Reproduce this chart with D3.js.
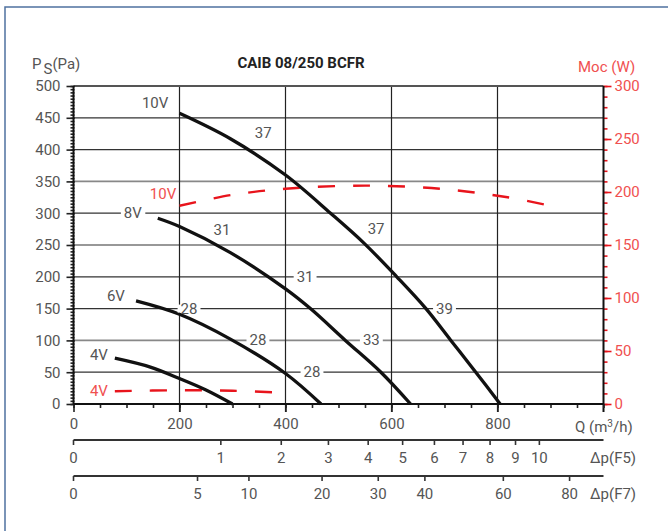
<!DOCTYPE html>
<html>
<head>
<meta charset="utf-8">
<script src="https://cdn.jsdelivr.net/npm/d3@7"></script>
<style>
  body { margin: 0; background: #fff; }
  svg { display: block; font-family: Roboto, "Noto Sans", sans-serif; }
</style>
</head>
<body>
<svg id="chart" width="668" height="531"></svg>
<script>
// Fan curves: flow Q (m3/h) and static pressure (Pa)
var curve4V = [[78, 72], [145, 58], [200, 40], [250, 22], [300, 0]];
var curve6V = [[118, 162], [200, 141], [296, 102], [400, 48], [467, 0]];
var curve8V = [[159, 292], [200, 279], [296, 238], [400, 181], [447, 150], [513, 100], [580, 50], [636, 0]];
var curve10V = [[200, 457], [296, 417], [400, 360], [485, 300], [548, 253], [610, 200], [665, 150], [712, 100], [759, 50], [805, 0]];

// Power curves: flow Q and power (W)
var power4V = [[78, 12], [200, 13], [300, 12.5], [381, 11]];
var power10V = [[200, 187], [296, 197], [400, 203], [550, 206], [693, 203], [819, 195], [900, 187]];

// Filter pressure drop scales: tick value and the flow where it sits
var f5Ticks = [0, 1, 2, 3, 4, 5, 6, 7, 8, 9, 10];
var f5Flow = [0, 278, 392, 481, 556, 621, 681, 735, 786, 834, 879];
var f7Ticks = [0, 5, 10, 20, 30, 40, 60, 80];
var f7Flow = [0, 234, 331, 469, 575, 663, 811, 936];

// Curve labels (Q, Pa)
var labels = [
    {t: "10V", q: 154, p: 473, red: false, bg: false},
    {t: "37", q: 358, p: 426, red: false, bg: false},
    {t: "10V", q: 169, p: 330, red: true, bg: false},
    {t: "8V", q: 112, p: 300, red: false, bg: true},
    {t: "31", q: 280, p: 274, red: false, bg: false},
    {t: "37", q: 571, p: 275, red: false, bg: false},
    {t: "31", q: 437, p: 200, red: false, bg: true},
    {t: "6V", q: 80, p: 170, red: false, bg: false},
    {t: "28", q: 218, p: 150, red: false, bg: true},
    {t: "39", q: 700, p: 150, red: false, bg: true},
    {t: "28", q: 348, p: 100, red: false, bg: true},
    {t: "33", q: 562, p: 100, red: false, bg: true},
    {t: "4V", q: 48, p: 77, red: false, bg: false},
    {t: "28", q: 450, p: 50, red: false, bg: true},
    {t: "4V", q: 48, p: 20, red: true, bg: false}
];

var svg = d3.select("#chart");
var GRAY = "#555", RED = "#f05050", DASH = "#e8141c";

var x = d3.scaleLinear().domain([0, 1000]).range([73.5, 603.5]);
var y = d3.scaleLinear().domain([0, 500]).range([404, 86]);
var yR = d3.scaleLinear().domain([0, 300]).range([404, 86]);

// Outer frame (left and top only visible)
svg.append("path").attr("d", "M5,531V7H668")
    .attr("fill", "none").attr("stroke", "#4f72a0").attr("stroke-width", 1.5);

// Horizontal grid
svg.append("g").selectAll("line")
    .data(d3.range(50, 500, 50))
    .enter().append("line")
    .attr("x1", x(0)).attr("x2", x(1000))
    .attr("y1", function(d) { return y(d); }).attr("y2", function(d) { return y(d); })
    .attr("stroke", function(d) { return (d == 100 || d == 350) ? "#888" : "#333"; })
    .attr("stroke-width", function(d) { return (d == 100 || d == 350) ? 1.6 : 1.2; });

// Vertical grid
svg.append("g").selectAll("line")
    .data([200, 400, 600, 800])
    .enter().append("line")
    .attr("x1", function(d) { return x(d); }).attr("x2", function(d) { return x(d); })
    .attr("y1", y(500)).attr("y2", y(0) + 8)
    .attr("stroke", "#222").attr("stroke-width", 1.2);

// Top border
svg.append("line").attr("x1", x(0)).attr("x2", x(1000)).attr("y1", y(500)).attr("y2", y(500))
    .attr("stroke", "#555").attr("stroke-width", 2);

// Left axis
var leftMinor = svg.append("g").attr("transform", "translate(" + (x(0) + 1) + ",0)")
    .call(d3.axisLeft(y).tickValues(d3.range(0, 501, 5)).tickSize(4).tickFormat(""));
var leftMajor = svg.append("g").attr("transform", "translate(" + (x(0) + 1) + ",0)")
    .call(d3.axisLeft(y).tickValues(d3.range(0, 501, 50)).tickSize(8).tickPadding(6));
[leftMinor, leftMajor].forEach(function(g) {
    g.select(".domain").remove();
    g.selectAll("line").attr("stroke", "#222").attr("stroke-width", 1.6);
});
leftMajor.selectAll("text").attr("fill", GRAY).style("font-size", "15px").style("font-family", "Roboto");
svg.append("line").attr("x1", x(0)).attr("x2", x(0)).attr("y1", y(500)).attr("y2", y(0))
    .attr("stroke", "#111").attr("stroke-width", 2);

// Right axis (power)
var rightMinor = svg.append("g").attr("transform", "translate(" + x(1000) + ",0)")
    .call(d3.axisRight(yR).tickValues(d3.range(0, 301, 10)).tickSize(4).tickFormat(""));
var rightMajor = svg.append("g").attr("transform", "translate(" + x(1000) + ",0)")
    .call(d3.axisRight(yR).tickValues(d3.range(0, 301, 50)).tickSize(8).tickPadding(3));
[rightMinor, rightMajor].forEach(function(g) {
    g.select(".domain").remove();
    g.selectAll("line").attr("stroke", DASH).attr("stroke-width", 1.6);
});
rightMajor.selectAll("text").attr("fill", RED).style("font-size", "15px").style("font-family", "Roboto");
svg.append("line").attr("x1", x(1000)).attr("x2", x(1000)).attr("y1", y(500)).attr("y2", y(0) + 8)
    .attr("stroke", "#111").attr("stroke-width", 2);

// Bottom axis (flow)
var bottomMinor = svg.append("g").attr("transform", "translate(0," + y(0) + ")")
    .call(d3.axisBottom(x).tickValues(d3.range(0, 1001, 50)).tickSize(4).tickFormat(""));
var bottomMajor = svg.append("g").attr("transform", "translate(0," + y(0) + ")")
    .call(d3.axisBottom(x).tickValues([0, 200, 400, 600, 800]).tickSize(8).tickPadding(6));
[bottomMinor, bottomMajor].forEach(function(g) {
    g.select(".domain").remove();
    g.selectAll("line").attr("stroke", "#222").attr("stroke-width", 1.6);
});
bottomMajor.selectAll("text").attr("fill", GRAY).style("font-size", "15px").style("font-family", "Roboto");
svg.append("line").attr("x1", x(0)).attr("x2", x(1000)).attr("y1", y(0)).attr("y2", y(0))
    .attr("stroke", "#111").attr("stroke-width", 2);

// Filter scales
function filterScale(ypos, ticks, flows, name) {
    var g = svg.append("g");
    g.append("line").attr("x1", x(0)).attr("x2", x(1000)).attr("y1", ypos).attr("y2", ypos)
        .attr("stroke", "#333").attr("stroke-width", 2.2);
    g.selectAll("line.tick").data(flows).enter().append("line").attr("class", "tick")
        .attr("x1", function(d) { return x(d); }).attr("x2", function(d) { return x(d); })
        .attr("y1", ypos).attr("y2", ypos + 5)
        .attr("stroke", "#333").attr("stroke-width", 1.6);
    g.selectAll("text").data(ticks).enter().append("text")
        .attr("x", function(d, i) { return x(flows[i]); })
        .attr("y", ypos + 23)
        .attr("text-anchor", "middle")
        .attr("fill", GRAY).style("font-size", "15px")
        .text(function(d) { return d; });
    g.append("text").attr("x", 590).attr("y", ypos + 23)
        .attr("fill", GRAY).style("font-size", "15px").text(name);
}
filterScale(440, f5Ticks, f5Flow, "\u0394p(F5)");
filterScale(476, f7Ticks, f7Flow, "\u0394p(F7)");

svg.append("text").attr("x", 575).attr("y", 432).attr("fill", GRAY).style("font-size", "15px")
    .html("Q (m<tspan dy='-5' style='font-size:10px'>3</tspan><tspan dy='5'>/h)</tspan>");

// Titles
svg.append("text").attr("x", 301).attr("y", 68).attr("text-anchor", "middle")
    .attr("fill", "#222").style("font-size", "15px").style("font-weight", "bold")
    .text("CAIB 08/250 BCFR");
svg.append("text").attr("x", 32).attr("y", 69).attr("fill", GRAY).style("font-size", "15px")
    .html("P<tspan dy='5' dx='2'>S</tspan><tspan dy='-5'>(Pa)</tspan>");
svg.append("text").attr("x", 578).attr("y", 72).attr("fill", RED).style("font-size", "15px")
    .text("Moc (W)");

// Power curves (dashed red)
var lineR = d3.line().x(function(d) { return x(d[0]); }).y(function(d) { return yR(d[1]); })
    .curve(d3.curveCatmullRom.alpha(0.5));
[power4V, power10V].forEach(function(c) {
    svg.append("path").attr("d", lineR(c)).attr("fill", "none")
        .attr("stroke", DASH).attr("stroke-width", 2.4).attr("stroke-dasharray", "17,18");
});

// Fan curves
var lineP = d3.line().x(function(d) { return x(d[0]); }).y(function(d) { return y(d[1]); })
    .curve(d3.curveCatmullRom.alpha(0.5));
[curve4V, curve6V, curve8V, curve10V].forEach(function(c) {
    svg.append("path").attr("d", lineP(c)).attr("fill", "none")
        .attr("stroke", "#111").attr("stroke-width", 3.3).attr("stroke-linecap", "butt");
});

// Labels
var lg = svg.append("g");
labels.forEach(function(l) {
    var t = lg.append("text").attr("x", x(l.q)).attr("y", y(l.p) + 5)
        .attr("text-anchor", "middle")
        .attr("fill", l.red ? RED : GRAY).style("font-size", "15px")
        .text(l.t);
    if (l.bg) {
        var b = t.node().getBBox();
        lg.insert("rect", function() { return t.node(); })
            .attr("x", b.x - 3).attr("y", y(l.p) - 4).attr("width", b.width + 6).attr("height", 8)
            .attr("fill", "#fff");
    }
});
</script>
</body>
</html>
